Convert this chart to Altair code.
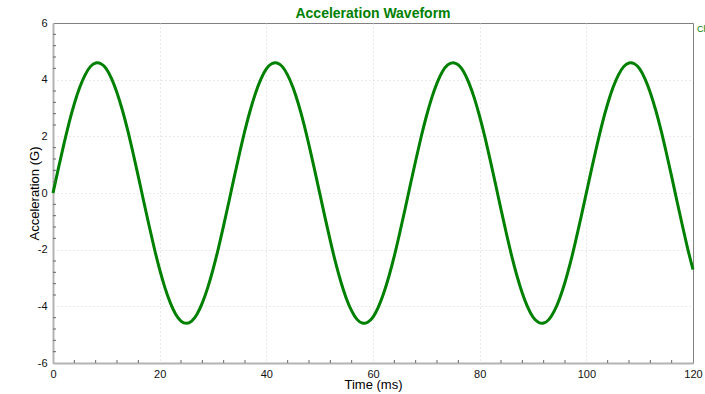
import altair as alt
import pandas as pd

# Sampled acceleration trace, one sample per millisecond
time_ms = list(range(0, 121))
accel_g = [
    0.00, 0.86, 1.69, 2.47, 3.15, 3.72, 4.16, 4.46, 4.59, 4.56,
    4.38, 4.03, 3.54, 2.93, 2.22, 1.42, 0.58, -0.29, -1.14, -1.96,
    -2.70, -3.35, -3.88, -4.28, -4.52, -4.60, -4.52, -4.28, -3.88, -3.35,
    -2.70, -1.96, -1.14, -0.29, 0.58, 1.42, 2.22, 2.93, 3.54, 4.03,
    4.38, 4.56, 4.59, 4.46, 4.16, 3.72, 3.15, 2.47, 1.69, 0.86,
    0.00, -0.86, -1.69, -2.47, -3.15, -3.72, -4.16, -4.46, -4.59, -4.56,
    -4.38, -4.03, -3.54, -2.93, -2.22, -1.42, -0.58, 0.29, 1.14, 1.96,
    2.70, 3.35, 3.88, 4.28, 4.52, 4.60, 4.52, 4.28, 3.88, 3.35,
    2.70, 1.96, 1.14, 0.29, -0.58, -1.42, -2.22, -2.93, -3.54, -4.03,
    -4.38, -4.56, -4.59, -4.46, -4.16, -3.72, -3.15, -2.47, -1.69, -0.86,
    0.00, 0.86, 1.69, 2.47, 3.15, 3.72, 4.16, 4.46, 4.59, 4.56,
    4.38, 4.03, 3.54, 2.93, 2.22, 1.42, 0.58, -0.29, -1.14, -1.96,
    -2.70,
]

x_ticks = [0, 20, 40, 60, 80, 100, 120]
y_ticks = [-6, -4, -2, 0, 2, 4, 6]
x_minor = [4, 8, 12, 16, 24, 28, 32, 36, 44, 48, 52, 56, 64, 68, 72, 76,
           84, 88, 92, 96, 104, 108, 112, 116]
y_minor = [-5.6, -5.2, -4.8, -4.4, -3.6, -3.2, -2.8, -2.4, -1.6, -1.2, -0.8, -0.4,
           0.4, 0.8, 1.2, 1.6, 2.4, 2.8, 3.2, 3.6, 4.4, 4.8, 5.2, 5.6]
series_name = ["Channel 1"]

W, H = 640, 340
FONT = "Liberation Sans"
GREEN = "#008000"

wave = pd.DataFrame({"time": time_ms, "accel": accel_g})

x_scale = alt.Scale(domain=[0, 120], nice=False, zero=False)
y_scale = alt.Scale(domain=[-6, 6], nice=False, zero=False)

# One shared axis definition per direction so the layers merge cleanly.
# Grid lines on the frame edges are hidden so the solid border shows.
x_axis = alt.Axis(
    values=x_ticks, title="Time (ms)", titleY=21, titleBaseline="middle",
    labelPadding=5, labelFlush=False, labelExpr="'' + datum.value",
    gridOpacity={"condition": {"test": "datum.value >= 120", "value": 0}, "value": 1},
)
y_axis = alt.Axis(
    values=y_ticks, title="Acceleration (G)", titleX=-19, titleBaseline="middle",
    labelPadding=6, labelFlush=False, labelExpr="'' + datum.value",
    gridOpacity={"condition": {"test": "datum.value >= 6", "value": 0}, "value": 1},
)

line = alt.Chart(wave).mark_line(
    color=GREEN, strokeWidth=3, interpolate="natural"
).encode(
    x=alt.X("time:Q", scale=x_scale, axis=x_axis),
    y=alt.Y("accel:Q", scale=y_scale, axis=y_axis),
)

x_minor_ticks = alt.Chart(pd.DataFrame({"time": x_minor})).mark_rule(
    color="#666666", strokeWidth=1
).encode(
    x=alt.X("time:Q", scale=x_scale, axis=x_axis),
    y=alt.value(H - 3),
    y2=alt.value(H),
)

y_minor_ticks = alt.Chart(pd.DataFrame({"accel": y_minor})).mark_rule(
    color="#666666", strokeWidth=1
).encode(
    y=alt.Y("accel:Q", scale=y_scale, axis=y_axis),
    x=alt.value(0),
    x2=alt.value(3),
)

legend_text = alt.Chart(pd.DataFrame({"label": series_name})).mark_text(
    align="left", baseline="middle", color=GREEN, fontSize=9, font=FONT
).encode(
    text="label:N",
    x=alt.value(W + 4),
    y=alt.value(6),
)

chart = alt.layer(line, x_minor_ticks, y_minor_ticks, legend_text).properties(
    width=W,
    height=H,
    title=alt.TitleParams(
        "Acceleration Waveform", font=FONT, fontSize=14, fontWeight="bold",
        color=GREEN, anchor="middle", offset=-4),
    autosize=alt.AutoSizeParams(type="none"),
    padding={"left": 53, "top": 23, "right": 12, "bottom": 31},
).configure_view(
    stroke="#808080", strokeWidth=1
).configure_axis(
    domainColor="#b4b4b4", domainWidth=2, ticks=False,
    grid=True, gridColor="#d4d4d4", gridDash=[1, 3], gridWidth=1,
    labelFont=FONT, labelFontSize=11, labelColor="#111111",
    titleFont=FONT, titleFontSize=13, titleFontWeight="normal", titleColor="#000000",
)

chart.save("out.html", embed_options={"renderer": "svg", "actions": False})
